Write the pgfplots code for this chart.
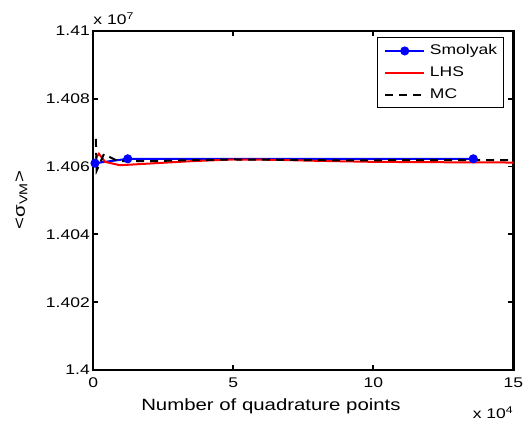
\documentclass[border=0pt]{standalone}
\usepackage{fontspec}
\setmainfont{Liberation Sans}[FakeStretch=1.25]
\usepackage{pgfplots}
\pgfplotsset{compat=1.18}

\begin{document}
\begin{tikzpicture}[font=\fontsize{14bp}{16bp}\selectfont]
 \begin{axis}[scale only axis,width=420bp,height=339bp,clip=false,
  xmin=0,xmax=15,ymin=1.4,ymax=1.41,
  xtick={0,5,10,15},xticklabels={0,5,10,15},
  ytick={1.4,1.402,1.404,1.406,1.408,1.41},
  yticklabels={1.4,1.402,1.404,1.406,1.408,1.41},
  axis line style={line width=2.4bp},
  tick style={line width=1.8bp,black},
  major tick length=5bp,tick align=inside,
  xticklabel style={yshift=-4bp},
  xlabel={Number of quadrature points},
  xlabel style={at={(axis description cs:0.423,-0.118)},anchor=base,font=\fontsize{16.3bp}{18bp}\selectfont},
  ylabel={<σ\textsubscript{VM}>},
  ylabel style={at={(axis description cs:-0.163,0.501)},anchor=base,font=\fontsize{16.3bp}{18bp}\selectfont},
  legend cell align=left,
  legend image code/.code={\draw[mark repeat=2,mark phase=2,#1] plot coordinates {(0bp,0bp)(19.5bp,0bp)(39bp,0bp)};},
  legend style={at={(axis description cs:0.978,0.981)},anchor=north east,draw=black,line width=1bp,
   inner xsep=6.5bp,inner ysep=6.5bp,row sep=9bp,
   nodes={inner sep=0bp,text height=10bp,text depth=3bp},
   /tikz/every odd column/.append style={column sep=4.7bp}},
 ]
  % Smolyak
  \addplot[blue,line width=2bp,mark=*,mark size=3.5bp] coordinates {
   (0.06,1.40610)(1.23,1.40623)(13.57,1.40623)};
  % LHS
  \addplot[red,line width=2bp] coordinates {
   (0.086,1.40625)(0.2,1.40638)(0.42,1.40614)(0.95,1.40604)(2.0,1.40609)(3.5,1.40616)
   (5,1.40621)(6.5,1.40620)(8,1.40617)(10,1.40614)(12,1.40613)(15,1.40612)};
  % MC
  \addplot[black,line width=2bp,dash pattern=on 8bp off 6bp] coordinates {
   (0.09,1.40682)(0.12,1.40588)(0.38,1.40637)(0.88,1.40616)(2,1.40616)(3.5,1.40619)
   (5,1.40621)(7,1.40620)(9,1.40618)(11,1.40619)(13,1.40619)(15,1.40619)};
  \legend{Smolyak,LHS,MC}
  \node[anchor=base west,inner sep=0pt] at (rel axis cs:0,1.0177) {x 10\textsuperscript{7}};
  \node[anchor=base west,inner sep=0pt] at (rel axis cs:0.903,-0.1445) {x 10\textsuperscript{4}};
  \coordinate (O) at (rel axis cs:0,0);
 \end{axis}
 \pgfresetboundingbox
 \path (O) ++(-93.3bp,-54bp) rectangle ++(523bp,424bp);
\end{tikzpicture}
\end{document}
